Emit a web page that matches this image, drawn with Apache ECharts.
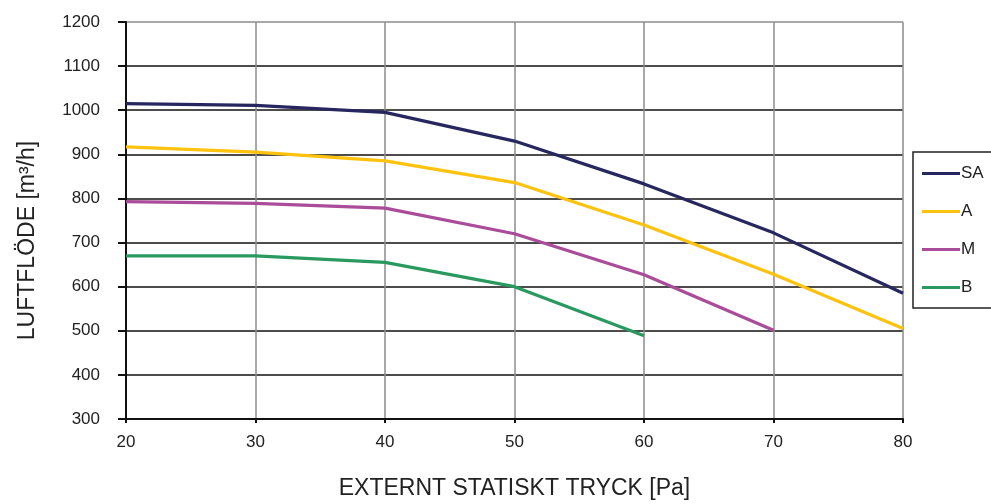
<!DOCTYPE html>
<html><head><meta charset="utf-8">
<script src="https://cdn.jsdelivr.net/npm/echarts@6/dist/echarts.min.js"></script>
<style>html,body{margin:0;padding:0;background:#fff}#c{width:991px;height:504px}</style>
</head><body><div id="c"></div>
<script>
var xCategories = [20, 30, 40, 50, 60, 70, 80];
var seriesNames = ['SA', 'A', 'M', 'B'];
var valuesSA = [1015, 1011, 995, 930, 833, 722, 585];
var valuesA = [917, 905, 885, 836, 740, 628, 505];
var valuesM = [793, 789, 778, 720, 627, 501];
var valuesB = [670, 670, 655, 600, 489];
var colors = ['#26275f', '#ffc20e', '#aa4c9a', '#2a9960'];

function pairs(vals){ return vals.map(function(v,i){ return [xCategories[i], v]; }); }
var allVals = [valuesSA, valuesA, valuesM, valuesB];
var chart = echarts.init(document.getElementById('c'), null, {renderer:'canvas'});
var hColors = ['#111','#111','#111','#111','#111','#111','#111','#111','#111','#8c8c8c'];
chart.setOption({
  animation: false,
  textStyle: {fontFamily: 'Liberation Sans, Arial, sans-serif'},
  grid: {left: 126, right: 88, top: 22, bottom: 85, containLabel: false, outerBoundsMode: 'none'},
  legend: {
    orient: 'vertical', left: 913, top: 152,
    data: seriesNames.map(function(n){ return {name:n, icon:'rect'}; }),
    itemWidth: 38, itemHeight: 3, itemGap: 21,
    padding: [13, 60, 12, 9],
    borderColor: '#222', borderWidth: 1.5,
    textStyle: {fontSize: 17, color: '#222', padding: [0,0,0,-4]}
  },
  xAxis: {
    type: 'value', min: 20, max: 80, interval: 10,
    name: 'EXTERNT STATISKT TRYCK [Pa]', nameLocation: 'middle', nameGap: 58,
    nameTextStyle: {fontSize: 23, color: '#222'},
    axisLine: {lineStyle: {color: '#111', width: 2}},
    axisTick: {show: true, length: 4, lineStyle: {color: '#111', width: 2}},
    axisLabel: {fontSize: 17, color: '#222', margin: 15},
    splitLine: {show: true, lineStyle: {color: '#8c8c8c', width: 1.5}}
  },
  yAxis: {
    type: 'value', min: 300, max: 1200, interval: 100,
    name: 'LUFTFLÖDE [m³/h]', nameLocation: 'middle', nameGap: 87, nameRotate: 90,
    nameTextStyle: {fontSize: 23, color: '#222', padding: [0, 40, 0, 0]},
    axisLine: {show: true, lineStyle: {color: '#111', width: 2}},
    axisTick: {show: true, length: 8, lineStyle: {color: '#111', width: 2}},
    axisLabel: {fontSize: 17, color: '#222', margin: 26, formatter: function(v){ return String(v); }},
    splitLine: {show: true, lineStyle: {color: hColors, width: 1.5}}
  },
  series: seriesNames.map(function(n, k){
    return {name: n, type: 'line', data: pairs(allVals[k]), symbol: 'none',
      lineStyle: {width: 3.2, color: colors[k]}, itemStyle: {color: colors[k]}};
  })
});
</script></body></html>
